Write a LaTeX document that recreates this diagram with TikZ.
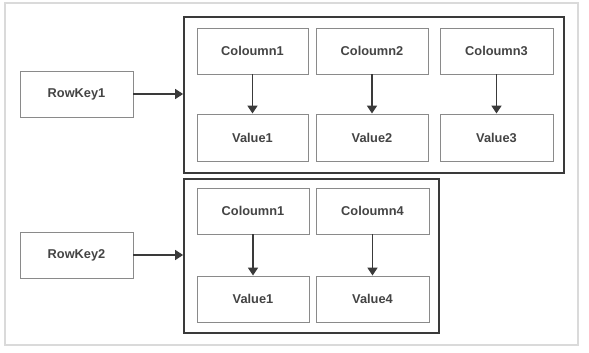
\documentclass[tikz,border=0pt]{standalone}
\usepackage{fontspec}
\setmainfont{Liberation Sans}
\usetikzlibrary{arrows.meta}
\definecolor{txt}{HTML}{444444}
\definecolor{boxline}{HTML}{8A8A8A}
\definecolor{grpline}{HTML}{3A3A3A}
\definecolor{frameline}{HTML}{DADADA}
\tikzset{
  cell/.style={draw=boxline, line width=0.9pt, fill=white, minimum height=46pt, inner sep=0pt,
    font=\fontsize{12.8}{14}\selectfont\bfseries, text=txt},
  group/.style={draw=grpline, line width=1.8pt, inner sep=0pt},
  conn/.style={draw=grpline, line width=1.6pt, -{Triangle[length=8pt,width=10pt]}}
}
\begin{document}
\begin{tikzpicture}[x=1pt,y=-1pt]
\useasboundingbox (0,0) rectangle (589,353);
\fill[white] (0,0) rectangle (589,353);
\draw[frameline, line width=1.8pt] (5,3) rectangle (578,345);
% group boxes
\node[group, minimum width=380pt, minimum height=156pt] (g1) at (374,95) {};
\node[group, minimum width=255pt, minimum height=154pt] (g2) at (311.5,256) {};
% row keys
\node[cell, minimum width=113pt] (rk1) at (76.5,94) {RowKey1};
\node[cell, minimum width=113pt] (rk2) at (76.5,255) {RowKey2};
% group 1 cells
\node[cell, minimum width=111pt] (c11) at (252.5,51) {Coloumn1};
\node[cell, minimum width=112pt] (c12) at (372,51) {Coloumn2};
\node[cell, minimum width=113pt] (c13) at (496.5,51) {Coloumn3};
\node[cell, minimum width=111pt, minimum height=47pt] (v11) at (252.5,137.5) {Value1};
\node[cell, minimum width=112pt, minimum height=47pt] (v12) at (372,137.5) {Value2};
\node[cell, minimum width=113pt, minimum height=47pt] (v13) at (496.5,137.5) {Value3};
% group 2 cells
\node[cell, minimum width=112pt] (c21) at (253,211) {Coloumn1};
\node[cell, minimum width=113pt] (c24) at (372.5,211) {Coloumn4};
\node[cell, minimum width=112pt] (v21) at (253,299) {Value1};
\node[cell, minimum width=113pt] (v24) at (372.5,299) {Value4};
% connectors
\draw[conn] (rk1.east) -- (rk1.east -| g1.west);
\draw[conn] (rk2.east) -- (rk2.east -| g2.west);
\draw[conn] (c11.south) -- (v11.north);
\draw[conn] (c12.south) -- (v12.north);
\draw[conn] (c13.south) -- (v13.north);
\draw[conn] (c21.south) -- (v21.north);
\draw[conn] (c24.south) -- (v24.north);
\end{tikzpicture}
\end{document}
